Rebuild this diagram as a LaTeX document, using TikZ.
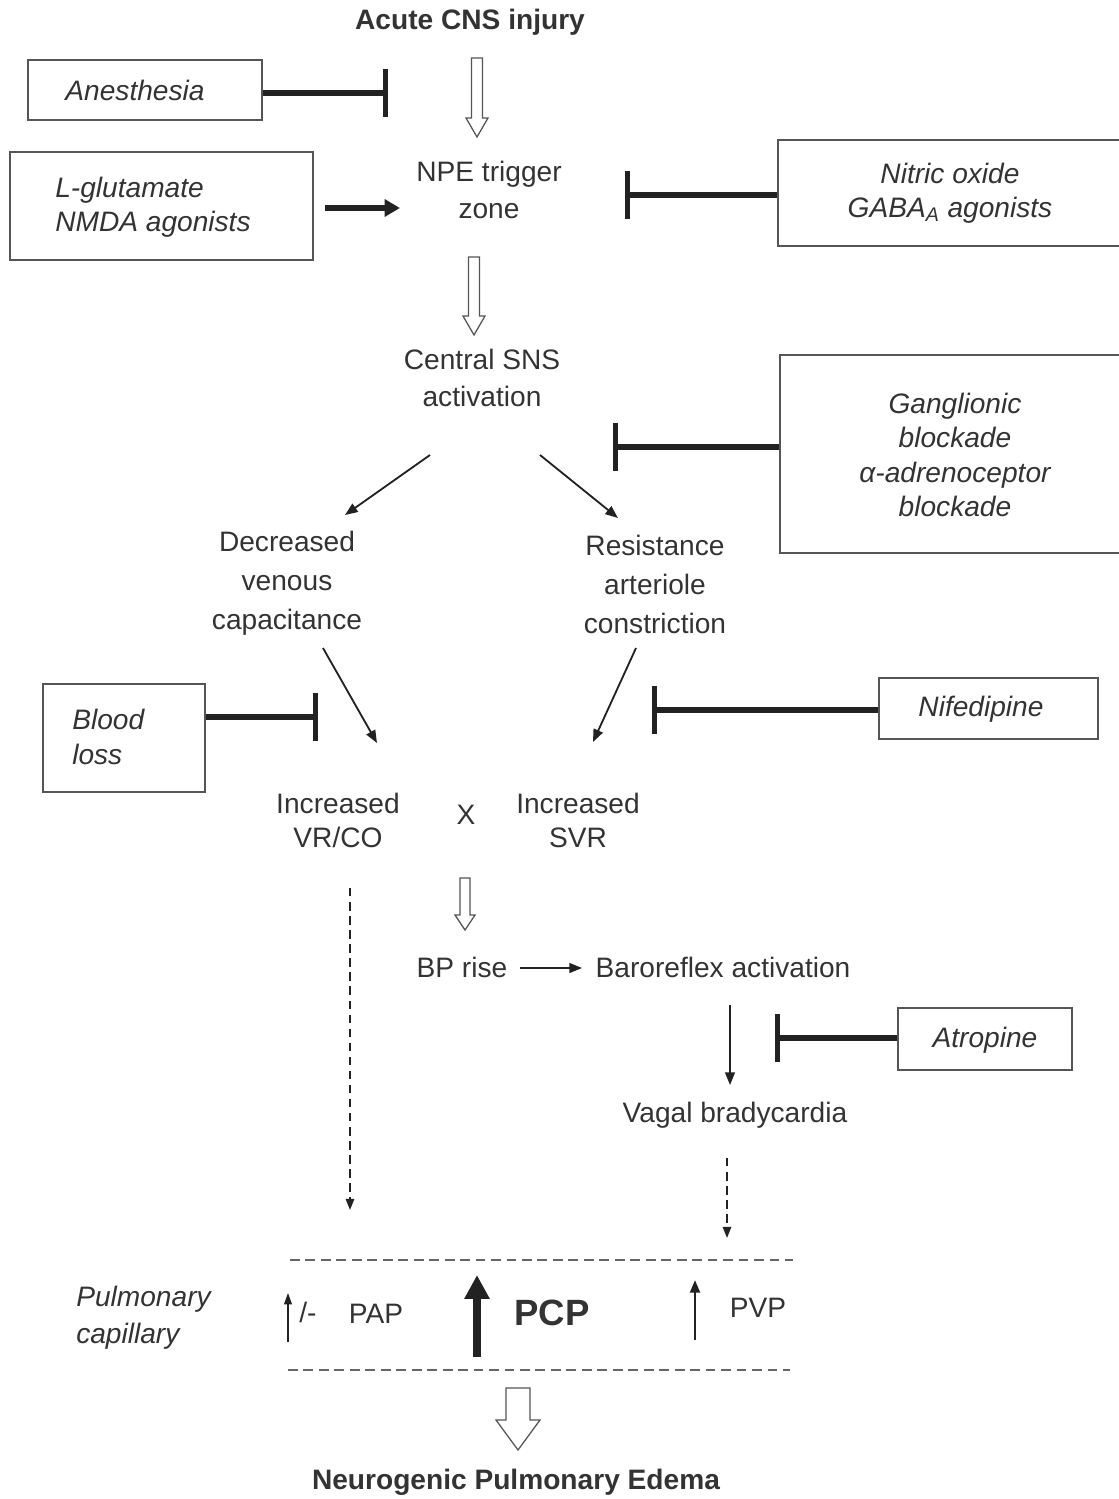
\documentclass[tikz,border=0pt]{standalone}
\usepackage{fontspec}
\setmainfont{Liberation Sans}
\usetikzlibrary{arrows.meta,calc}
\definecolor{txtc}{HTML}{333333}
\definecolor{linec}{HTML}{222222}
\definecolor{boxc}{HTML}{555555}
\definecolor{dashc}{HTML}{666666}
\newcommand{\hollowarr}[6]{%
  \draw[hollow] (#1-#4,#2) -- (#1+#4,#2) -- (#1+#4,#3-#6) -- (#1+#5,#3-#6) -- (#1,#3)
    -- (#1-#5,#3-#6) -- (#1-#4,#3-#6) -- cycle;}
\begin{document}
\begin{tikzpicture}[x=0.025cm,y=-0.025cm,
 txt/.style={font=\fontsize{20}{26.5}\selectfont, text=txtc, align=center, inner sep=0pt},
 txtw/.style={font=\fontsize{20}{27.7}\selectfont, text=txtc, align=center, inner sep=0pt},
 txtn/.style={font=\fontsize{20}{24.2}\selectfont, text=txtc, align=center, inner sep=0pt},
 itxt/.style={font=\fontsize{20}{24.5}\selectfont\itshape, text=txtc, align=center, inner sep=0pt},
 ttl/.style={font=\fontsize{20}{26}\selectfont\bfseries, text=txtc, inner sep=0pt},
 bx/.style={draw=boxc, line width=1.1pt, inner sep=0pt},
 arr/.style={draw=linec, line width=1.3pt, -{Triangle[length=9pt,width=7pt]}},
 darr/.style={draw=linec, line width=1.3pt, dash pattern=on 6pt off 4pt, -{Triangle[length=8pt,width=6pt]}},
 inh/.style={draw=linec, line width=3.6pt, -{Bar[width=34pt]}},
 hollow/.style={draw=boxc, fill=white, line width=0.9pt, line join=miter},
 hline/.style={draw=dashc, line width=1.1pt, dash pattern=on 7pt off 4pt},
]
\useasboundingbox (0,0) rectangle (1118,1499);

% main chain
\node[ttl] (acute) at (470,22) {Acute CNS injury};
\node[txt] (npe) at (489,190) {NPE trigger\\zone};
\node[txt] (sns) at (482,378) {Central SNS\\activation};
\node[txtw] (dec) at (287,583) {Decreased\\venous\\capacitance};
\node[txtw] (res) at (655,584) {Resistance\\arteriole\\constriction};
\node[txtn] (vrco) at (338,820) {Increased\\VR/CO};
\node[txt] (xx) at (466,815) {X};
\node[txtn] (svr) at (578,820) {Increased\\SVR};
\node[txt] (bp) at (462,967) {BP rise};
\node[txt] (baro) at (723,967) {Baroreflex activation};
\node[txt] (vagal) at (735,1115) {Vagal bradycardia};
\node[font=\fontsize{20}{26.5}\selectfont\itshape, text=txtc, inner sep=0pt, anchor=west, align=left] (pulm) at (76,1318) {Pulmonary\\capillary};
\node[txt] (slash) at (308,1312) {/-};
\node[txt] (pap) at (376,1314) {PAP};
\node[font=\fontsize{26}{30}\selectfont\bfseries, text=txtc, inner sep=0pt] (pcp) at (552,1313) {PCP};
\node[txt] (pvp) at (758,1308) {PVP};
\node[ttl] (npeed) at (516,1482) {Neurogenic Pulmonary Edema};

% hollow arrows (acute -> npe, npe -> sns, vr x svr -> bp, capillary -> edema)
\hollowarr{477}{58}{137}{5.5}{11}{19}
\hollowarr{474}{257}{335}{5.5}{11}{19}
\hollowarr{465}{878}{930}{5}{10}{15}
\hollowarr{518}{1388}{1450}{12}{22}{30}

% boxes
\node[bx, minimum width=5.85cm, minimum height=1.5cm] (anes) at (145,90) {};
\node[itxt] (anest) at (135,90) {Anesthesia};
\node[bx, minimum width=7.575cm, minimum height=2.7cm] (glu) at (161.5,206) {};
\node[itxt, align=left, anchor=west] (glut) at (55,207) {L-glutamate\\NMDA agonists};
\node[bx, minimum width=8.675cm, minimum height=2.65cm] (nit) at (951.5,193) {};
\node[itxt] (nitt) at (950,193) {Nitric oxide\\GABA\textsubscript{A} agonists};
\node[bx, minimum width=8.625cm, minimum height=4.95cm] (gang) at (952.5,454) {};
\node[itxt] (gangt) at (955,455) {Ganglionic\\blockade\\α-adrenoceptor\\blockade};
\node[bx, minimum width=4.05cm, minimum height=2.7cm] (blood) at (124,738) {};
\node[itxt, anchor=west, align=left] (bloodt) at (72,737) {Blood\\loss};
\node[bx, minimum width=5.475cm, minimum height=1.525cm] (nif) at (988.5,708.5) {};
\node[itxt] (nift) at (981,709) {Nifedipine};
\node[bx, minimum width=4.35cm, minimum height=1.55cm] (atro) at (985,1039) {};
\node[itxt] (atrot) at (985,1040) {Atropine};

% inhibition ends
\coordinate (anesT) at (388,93);
\coordinate (nitT) at (625,195);
\coordinate (gangT) at (613,447);
\coordinate (bloodT) at (318,717);
\coordinate (nifT) at (652,710);
\coordinate (atroT) at (775,1038);
\draw[inh] (anes.east |- anesT) -- (anesT);
\draw[inh] (nit.west |- nitT) -- (nitT);
\draw[inh] (gang.west |- gangT) -- (gangT);
\draw[inh] (blood.east |- bloodT) -- (bloodT);
\draw[inh] (nif.west |- nifT) -- (nifT);
\draw[inh] (atro.west |- atroT) -- (atroT);

% glutamate arrow
\coordinate (gluA) at (325,208);
\coordinate (gluB) at (400,208);
\draw[draw=linec, line width=3.6pt, -{Triangle[length=11pt,width=12pt]}] (gluA) -- (gluB);

% thin arrows
\coordinate (s1a) at (430,455); \coordinate (s1b) at (345,515);
\coordinate (s2a) at (540,455); \coordinate (s2b) at (618,518);
\coordinate (d1a) at (323,648); \coordinate (d1b) at (377,743);
\coordinate (r1a) at (636,648); \coordinate (r1b) at (593,742);
\coordinate (bpa) at (520,968); \coordinate (bpb) at (582,968);
\coordinate (ba) at (730,1005); \coordinate (bb) at (730,1085);
\draw[arr] (s1a) -- (s1b);
\draw[arr] (s2a) -- (s2b);
\draw[arr] (d1a) -- (d1b);
\draw[arr] (r1a) -- (r1b);
\draw[arr] (bpa) -- (bpb);
\draw[arr] (ba) -- (bb);

% dashed arrows
\coordinate (v1a) at (350,888); \coordinate (v1b) at (350,1210);
\coordinate (v2a) at (727,1158); \coordinate (v2b) at (727,1238);
\draw[darr] (v1a) -- (v1b);
\draw[darr] (v2a) -- (v2b);

% capillary lines
\coordinate (l1a) at (290,1260); \coordinate (l1b) at (793,1260);
\coordinate (l2a) at (288,1370); \coordinate (l2b) at (790,1370);
\draw[hline] (l1a) -- (l1b);
\draw[hline] (l2a) -- (l2b);

% up arrows
\coordinate (u1a) at (288,1342); \coordinate (u1b) at (288,1293);
\coordinate (u2a) at (477,1357); \coordinate (u2b) at (477,1275);
\coordinate (u3a) at (695,1340); \coordinate (u3b) at (695,1280);
\draw[draw=linec, line width=1.1pt, -{Triangle[length=8pt,width=5.5pt]}] (u1a) -- (u1b);
\draw[draw=linec, line width=5.5pt, -{Triangle[length=17pt,width=17pt]}] (u2a) -- (u2b);
\draw[draw=linec, line width=1.8pt, -{Triangle[length=9pt,width=7pt]}] (u3a) -- (u3b);
\end{tikzpicture}
\end{document}
